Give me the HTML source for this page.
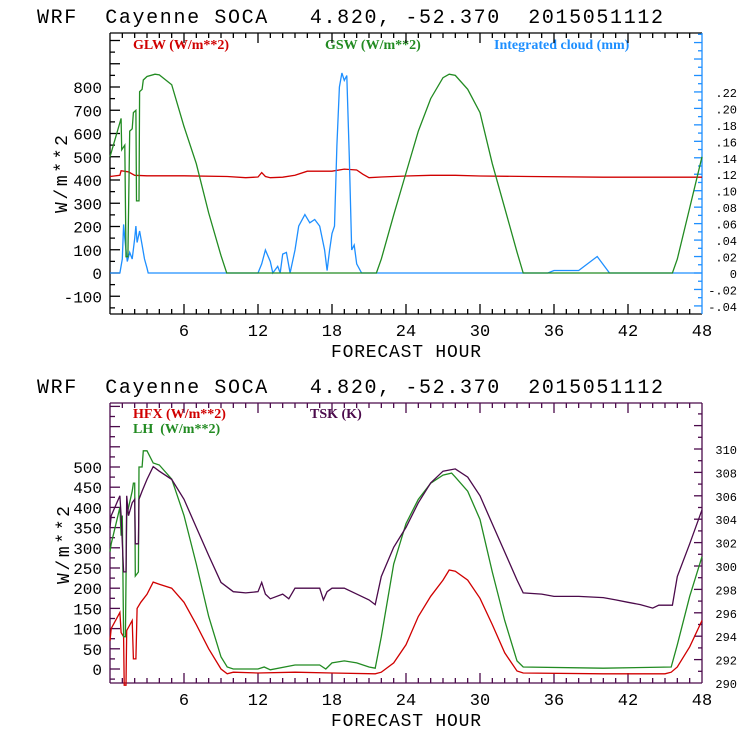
<!DOCTYPE html>
<html><head><meta charset="utf-8"><style>
html,body{margin:0;padding:0;background:#fff;}
svg{display:block;font-family:"Liberation Mono",monospace;}
text{white-space:pre;}
</style></head><body>
<svg id="c" width="740" height="740" viewBox="0 0 740 740" xmlns="http://www.w3.org/2000/svg" xml:space="preserve">
<rect x="0" y="0" width="740" height="740" fill="#fff"/>
<text x="37" y="23" font-size="20" textLength="626" lengthAdjust="spacing">WRF  Cayenne SOCA   4.820, -52.370  2015051112</text>
<text x="37" y="393" font-size="20" textLength="626" lengthAdjust="spacing">WRF  Cayenne SOCA   4.820, -52.370  2015051112</text>
<text x="406" y="357" font-size="18" text-anchor="middle" textLength="150" lengthAdjust="spacing">FORECAST HOUR</text>
<text x="406" y="726" font-size="18" text-anchor="middle" textLength="150" lengthAdjust="spacing">FORECAST HOUR</text>
<text transform="translate(67,174) rotate(-90)" font-size="18" text-anchor="middle" textLength="78" lengthAdjust="spacing">W/m**2</text>
<text transform="translate(69,545) rotate(-90)" font-size="18" text-anchor="middle" textLength="78" lengthAdjust="spacing">W/m**2</text>
<g font-family="'Liberation Serif',serif" font-size="14" font-weight="bold">
<text x="133" y="49" fill="#d00000">GLW (W/m**2)</text>
<text x="325" y="49" fill="#228b22">GSW (W/m**2)</text>
<text x="494" y="49" fill="#1e8fff">Integrated cloud (mm)</text>
<text x="133" y="418" fill="#d00000">HFX (W/m**2)</text>
<text x="133" y="433" fill="#228b22">LH  (W/m**2)</text>
<text x="310" y="418" fill="#4b0a4b">TSK (K)</text>
</g>
<g id="layer"></g>
</svg>
<script>
// ---- data ----
const xTicks = [6,12,18,24,30,36,42,48];
const topLeftTicks = [-100,0,100,200,300,400,500,600,700,800];
const topRightTicks = [-0.04,-0.02,0,0.02,0.04,0.06,0.08,0.10,0.12,0.14,0.16,0.18,0.20,0.22];
const topRightLabels = ["-.04","-.02","0",".02",".04",".06",".08",".10",".12",".14",".16",".18",".20",".22"];
const botLeftTicks = [0,50,100,150,200,250,300,350,400,450,500];
const botRightTicks = [290,292,294,296,298,300,302,304,306,308,310];

const gswHours = [0,0.9,0.95,1.2,1.3,1.45,1.6,1.8,1.9,2.1,2.15,2.35,2.4,2.6,2.7,3.0,3.65,4,5,6,7,8,9,9.46,21.6,22,23,24,25,26,27,27.5,28,29,30,31,32,33,33.5,45.6,46,47,48];
const gswVals  = [500,665,530,550,70,70,610,620,690,700,310,310,780,790,830,845,855,852,810,630,470,258,75,0,0,60,250,430,610,750,840,855,850,790,690,470,280,90,0,0,60,280,500];
const glwHours = [0,0.8,0.9,1.5,2,3,6,9.5,11,12,12.3,12.6,13,14,15,16,18,19,20,20.5,21,22,24,26,28,30,34,40,48];
const glwVals  = [415,420,440,435,420,418,418,415,410,413,432,415,410,412,420,438,438,447,443,425,410,413,417,420,420,417,415,412,412];
const cldHours = [0,0.8,1.0,1.1,1.2,1.3,1.4,1.6,1.8,2.0,2.1,2.2,2.4,2.6,2.8,3.0,3.1,12,12.3,12.6,13,13.2,13.6,13.8,14,14.3,14.6,15,15.3,15.8,16.2,16.6,17,17.4,17.6,17.8,18.0,18.2,18.4,18.6,18.8,19,19.2,19.4,19.6,19.8,20,20.4,35.5,36,38,39.5,40.5,48];
const cldVals  = [0,0,0.017,0.059,0.042,0.028,0.014,0.025,0.017,0.042,0.057,0.037,0.051,0.034,0.017,0.006,0,0,0.011,0.028,0.014,0,0.008,0,0.023,0.025,0,0.028,0.057,0.071,0.061,0.065,0.057,0.028,0.003,0.027,0.048,0.057,0.155,0.226,0.243,0.234,0.240,0.141,0.028,0.034,0.011,0,0,0.003,0.003,0.020,0,0];
const hfxHours = [0,0.1,0.8,0.9,1.1,1.15,1.3,1.35,1.8,1.9,2.1,2.2,2.5,3,3.5,4,5,6,7,8,9,9.5,10,12,15,18,21.5,22,23,24,25,26,27,27.5,28,29,30,31,32,33,33.5,40,45,45.5,46,47,48];
const hfxVals  = [70,100,140,90,80,-40,-40,95,120,25,25,150,165,185,215,210,200,165,110,50,0,-12,-8,-10,-8,-10,-12,-8,15,60,130,180,220,245,242,220,175,110,40,-5,-10,-12,-12,-8,5,55,120];
const lhHours = [0,0.1,0.8,0.9,1.0,1.1,1.25,1.35,1.8,1.9,2.0,2.05,2.3,2.35,2.6,2.7,3.0,3.5,4,5,6,7,8,9,9.5,10,12,12.5,13,15,17,17.5,18,19,20,21,21.5,22,23,24,25,26,27,27.7,28,29,30,31,32,33,33.5,40,45.5,46,47,48];
const lhVals  = [290,310,400,330,380,80,80,380,440,460,460,230,240,500,500,540,540,510,505,470,380,260,130,30,5,0,0,5,-2,10,10,0,15,20,15,5,2,80,260,360,420,460,480,485,475,440,370,240,120,20,5,2,5,60,180,278];
const tskHours = [0,0.1,0.8,0.9,1.1,1.3,1.35,1.5,1.8,2.0,2.05,2.3,2.35,2.6,3,3.5,4,5,6,7,8,9,10,11,12,12.3,12.6,13,14,14.5,15,17,17.3,17.6,18,19,20,21,21.5,22,23,24,25,26,27,28,29,30,31,32,33,33.5,35,36,38,40,41,42,43,44,44.5,45.6,46,47,48];
const tskVals  = [303.3,304.3,306.0,304.3,299.5,299.5,306.0,304.3,305.4,305.7,301.9,301.9,305.7,306.4,307.4,308.5,308.1,307.4,305.7,303.3,300.9,298.6,297.8,297.7,297.8,298.6,297.6,297.2,297.6,297.2,298.1,298.1,297.1,297.8,298.1,298.1,297.6,297.1,296.7,299.1,301.6,303.3,305.4,307.1,308.1,308.3,307.6,306.0,303.6,301.2,298.8,297.7,297.6,297.4,297.4,297.3,297.1,296.9,296.7,296.4,296.65,296.65,299.1,301.9,304.8];

// ---- geometry ----
const X0=110, X1=702;
const xs = h => X0 + (X1-X0)*h/48;
const T = {top:33, bot:314, y:v=>273-0.2325*v, yr:v=>273-823*v};
const B = {top:403, bot:683, y:v=>669-0.404*v, yr:v=>683-11.7*(v-290)};
const NS="http://www.w3.org/2000/svg";
const layer=document.getElementById('layer');
function mk(tag, attrs){const e=document.createElementNS(NS,tag);for(const k in attrs)e.setAttribute(k,attrs[k]);layer.appendChild(e);return e;}
function line(x1,y1,x2,y2,c){return mk('line',{x1:x1,y1:y1,x2:x2,y2:y2,stroke:c,'stroke-width':1.3});}
function series(hs,vs,yf,c,name){
  let d='';
  for(let i=0;i<hs.length;i++){d+=(i?'L':'M')+xs(hs[i]).toFixed(1)+','+yf(vs[i]).toFixed(1);}
  const p=mk('path',{d:d,fill:'none',stroke:c,'stroke-width':1.3});
  
  
}
function panel(P, leftColor, rightColor, pre){
  let e=line(X0,P.top,X1,P.top,leftColor);
  
  
  e=line(X0,P.bot,X1,P.bot,leftColor);
  
  
  e=line(X0,P.top,X0,P.bot,leftColor);
  
  
  e=line(X1,P.top,X1,P.bot,rightColor);
  
  
  for(let h=1;h<48;h++){
    const L=(h%6===0)?10:5;
    line(xs(h),P.bot,xs(h),P.bot-L,leftColor);
    line(xs(h),P.top,xs(h),P.top+L,leftColor);
  }
  xTicks.forEach(h=>{
    const t=mk('text',{x:xs(h),y:P.bot+22,'font-size':17,'text-anchor':'middle'});
    t.textContent=String(h);
    
    
  });
}
panel(T,'#000','#1e8fff','top');
panel(B,'#4b0a4b','#4b0a4b','bottom');
for(let v=-150;v<=1030;v+=50){const y=T.y(v);if(y<T.top+1||y>T.bot-1)continue;line(X0,y,X0+(v%100===0?10:5),y,'#000');}
topLeftTicks.forEach(v=>{const t=mk('text',{x:X0-8,y:T.y(v)+6,'font-size':16,'text-anchor':'end'});t.textContent=String(v);
  
  });
for(let i=-5;i<=29;i++){const v=i/100;const y=T.yr(v);if(y<T.top+1||y>T.bot-1)continue;line(X1,y,X1-(i%2===0?8:4),y,'#1e8fff');}
topRightTicks.forEach((v,i)=>{const t=mk('text',{x:737,y:T.yr(v)+5,'font-size':12,'text-anchor':'end'});t.textContent=topRightLabels[i];
  
  });
for(let v=-25;v<=700;v+=25){const y=B.y(v);if(y<B.top+1||y>B.bot-1)continue;line(X0,y,X0+(v%50===0?10:5),y,'#4b0a4b');}
botLeftTicks.forEach(v=>{const t=mk('text',{x:X0-8,y:B.y(v)+6,'font-size':16,'text-anchor':'end'});t.textContent=String(v);
  
  });
for(let v=291;v<=313;v++){const y=B.yr(v);if(y<B.top+1)continue;line(X1,y,X1-(v%2===0?8:4),y,'#4b0a4b');}
botRightTicks.forEach(v=>{const t=mk('text',{x:737,y:B.yr(v)+5,'font-size':12,'text-anchor':'end'});t.textContent=String(v);
  
  });
series(glwHours,glwVals,T.y,'#d00000','glw-line');
series(cldHours,cldVals,T.yr,'#1e8fff','cloud-line');
series(gswHours,gswVals,T.y,'#228b22','gsw-line');
series(hfxHours,hfxVals,B.y,'#d00000','hfx-line');
series(lhHours,lhVals,B.y,'#228b22','lh-line');
series(tskHours,tskVals,B.yr,'#4b0a4b','tsk-line');
</script>
</body></html>
